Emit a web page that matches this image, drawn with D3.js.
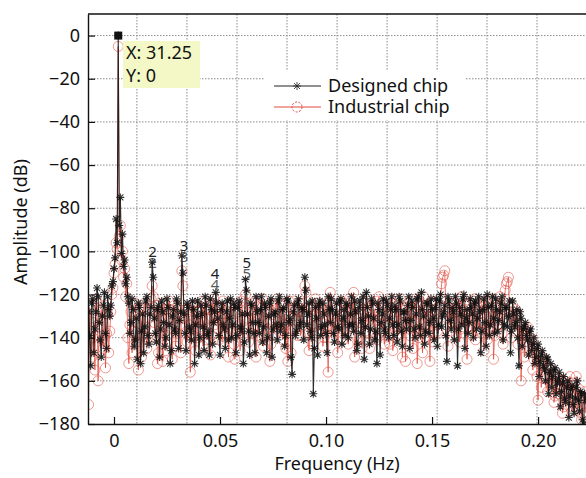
<!DOCTYPE html>
<html><head><meta charset="utf-8">
<script src="https://cdn.jsdelivr.net/npm/d3@7"></script>
<style>
html,body{margin:0;padding:0;background:#fff;}
svg{display:block;font-family:"Noto Sans",sans-serif;}
</style></head>
<body>
<svg id="chart" width="586" height="478"></svg>
<script>
// ---------------- data ----------------
const freqStart = -0.012;   // first bin (Hz)
const freqStep = 0.001;     // bin spacing (Hz); half-bins lie at +0.0005

// Designed chip spectrum (dB) on the whole bins
const designedDb = [
 -128,-153,-122,-136,-117,-133,-149,-125,-138,-121,
 -130,-116,-108,-85,0,-75,-92,-104,-112,-124,
 -133,-127,-141,-150,-126,-137,-147,-123,-139,-129,
 -105,-131,-142,-125,-136,-128,-144,-122,-134,-146,
 -127,-138,-124,-132,-102,-129,-146,-126,-137,-123,
 -152,-130,-148,-125,-135,-121,-139,-148,-127,-133,
 -119,-131,-148,-124,-136,-128,-141,-122,-134,-126,
 -139,-123,-137,-152,-113,-129,-148,-125,-138,-121,
 -133,-127,-142,-124,-147,-130,-122,-136,-128,-141,
 -121,-134,-126,-139,-123,-131,-157,-125,-137,-122,
 -133,-127,-112,-134,-124,-140,-166,-126,-148,-123,
 -135,-129,-138,-121,-133,-127,-142,-124,-136,-122,
 -131,-139,-125,-134,-121,-137,-128,-143,-123,-132,
 -150,-119,-130,-136,-124,-141,-152,-127,-133,-122,
 -138,-125,-131,-121,-139,-127,-134,-123,-144,-128,
 -136,-121,-132,-126,-140,-122,-135,-119,-130,-137,
 -124,-133,-127,-141,-122,-134,-120,-130,-125,-151,
 -123,-136,-128,-121,-153,-126,-134,-120,-131,-138,
 -122,-129,-124,-136,-121,-147,-127,-133,-120,-139,
 -125,-131,-122,-137,-128,-121,-134,-126,-130,-147,
 -123,-135,-127,-153,-131,-136,-133,-141,-137,-146,
 -140,-149,-143,-151,-146,-155,-149,-166,-152,-158,
 -154,-161,-156,-165,-158,-170,-160,-167,-162,-175,
 -163,-169,-165,-178,-166
];
// Designed chip spectrum (dB) on the half bins
const designedDbHalf = [
 -139,-124,-147,-128,-121,-141,-130,-119,-145,-127,
 -125,-114,-103,-96,-88,-101,-107,-115,-121,-138,
 -122,-144,-131,-124,-152,-129,-135,-121,-143,-126,
 -112,-138,-127,-149,-123,-133,-140,-126,-152,-130,
 -136,-122,-145,-128,-110,-138,-124,-135,-141,-127,
 -134,-123,-140,-129,-146,-125,-137,-122,-143,-128,
 -124,-139,-127,-134,-145,-123,-131,-140,-124,-147,
 -126,-135,-129,-142,-118,-137,-124,-133,-147,-128,
 -138,-121,-135,-126,-140,-124,-149,-129,-134,-123,
 -137,-127,-144,-122,-133,-149,-128,-139,-124,-135,
 -126,-141,-118,-129,-137,-123,-145,-131,-125,-139,
 -124,-134,-147,-127,-122,-138,-129,-135,-123,-143,
 -127,-124,-140,-129,-134,-123,-146,-126,-138,-121,
 -135,-126,-143,-122,-131,-137,-124,-148,-129,-136,
 -123,-140,-127,-134,-125,-142,-121,-137,-128,-132,
 -125,-145,-123,-136,-129,-121,-139,-127,-143,-124,
 -138,-122,-131,-126,-144,-123,-135,-128,-139,-121,
 -132,-126,-141,-124,-136,-129,-122,-145,-127,-133,
 -126,-140,-123,-131,-128,-137,-122,-144,-126,-134,
 -121,-138,-127,-132,-124,-141,-126,-135,-123,-137,
 -129,-133,-140,-128,-144,-135,-139,-148,-136,-143,
 -152,-145,-158,-148,-153,-160,-150,-156,-163,-155,
 -166,-159,-172,-161,-168,-163,-177,-164,-171,-168,
 -160,-174,-166,-180,-169
];

// Industrial chip spectrum (dB) on the whole bins
const industrialDb = [
 -171,-131,-140,-155,-124,-135,-127,-145,-154,-129,
 -137,-120,-110,-96,-5,-88,-100,-108,-115,-152,
 -128,-137,-124,-142,-131,-149,-126,-135,-140,-127,
 -116,-133,-125,-147,-130,-151,-127,-139,-123,-136,
 -129,-144,-126,-134,-109,-131,-138,-127,-156,-132,
 -125,-140,-128,-135,-144,-124,-131,-127,-139,-122,
 -130,-136,-126,-142,-129,-133,-149,-125,-137,-150,
 -128,-134,-123,-140,-120,-131,-127,-138,-124,-149,
 -129,-135,-122,-139,-127,-133,-143,-125,-131,-122,
 -137,-128,-134,-145,-151,-126,-136,-123,-132,-128,
 -139,-124,-116,-130,-146,-127,-135,-122,-138,-126,
 -133,-140,-125,-156,-119,-131,-137,-127,-134,-123,
 -141,-128,-136,-122,-132,-119,-139,-126,-133,-145,
 -124,-130,-138,-123,-134,-127,-141,-121,-132,-137,
 -125,-130,-143,-124,-135,-128,-139,-122,-149,-130,
 -126,-136,-123,-145,-128,-152,-125,-134,-121,-140,
 -127,-151,-124,-133,-129,-138,-122,-112,-109,-131,
 -126,-137,-124,-133,-128,-142,-121,-135,-127,-131,
 -124,-139,-122,-129,-136,-125,-133,-123,-141,-128,
 -135,-150,-126,-132,-121,-138,-127,-115,-112,-130,
 -125,-137,-129,-134,-160,-136,-139,-135,-146,-141,
 -150,-145,-169,-148,-153,-150,-159,-154,-162,-157,
 -167,-159,-164,-160,-172,-162,-168,-158,-174,-165,
 -158,-170,-167,-176,-165
];
// Industrial chip spectrum (dB) on the half bins
const industrialDbHalf = [
 -126,-149,-133,-122,-160,-131,-141,-125,-138,-147,
 -128,-117,-106,-99,-93,-104,-112,-121,-140,-134,
 -147,-125,-133,-155,-127,-139,-124,-145,-131,-122,
 -121,-140,-152,-128,-135,-124,-146,-131,-127,-150,
 -125,-138,-131,-147,-116,-127,-142,-134,-125,-139,
 -146,-128,-136,-123,-133,-141,-127,-148,-124,-134,
 -126,-141,-131,-123,-138,-128,-136,-124,-143,-129,
 -135,-146,-126,-132,-124,-142,-129,-136,-123,-139,
 -131,-125,-144,-128,-136,-151,-124,-138,-127,-133,
 -125,-141,-129,-134,-123,-147,-130,-127,-139,-124,
 -135,-128,-119,-138,-126,-143,-130,-124,-137,-129,
 -144,-127,-135,-123,-140,-129,-133,-147,-125,-136,
 -130,-124,-143,-127,-135,-149,-126,-131,-140,-123,
 -137,-128,-145,-125,-132,-140,-123,-136,-129,-143,
 -127,-134,-122,-146,-130,-125,-138,-127,-133,-151,
 -124,-139,-128,-133,-122,-140,-129,-147,-126,-135,
 -130,-123,-142,-127,-137,-125,-115,-111,-128,-144,
 -124,-132,-128,-139,-122,-136,-131,-125,-150,-129,
 -135,-123,-141,-128,-133,-126,-146,-124,-137,-130,
 -122,-139,-127,-134,-125,-143,-118,-114,-128,-140,
 -132,-127,-143,-135,-138,-149,-136,-144,-140,-155,
 -147,-158,-151,-163,-152,-157,-165,-155,-161,-170,
 -158,-166,-162,-175,-160,-169,-164,-172,-161,-168,
 -173,-164,-178,-168,-175
];

const seriesNames = ["Designed chip", "Industrial chip"];
const xTickValues = [0, 0.05, 0.10, 0.15, 0.20];
const xTickLabels = ["0", "0.05", "0.10", "0.15", "0.20"];
const yTickValues = [0, -20, -40, -60, -80, -100, -120, -140, -160, -180];
const xGridValues = [0.0108, 0.0344, 0.0580, 0.0816, 0.1052, 0.1288, 0.1524, 0.1759, 0.1995];
const harmonicFreq = [0.0182, 0.0330, 0.0476, 0.0626];
const harmonicLabel = ["2", "3", "4", "5"];
const harmonicLabelDb = [-100.0, -97.5, -110.5, -105.2];
const dataTip = {freq: 0.002, db: 0, lines: ["X: 31.25", "Y: 0"]};

// ---------------- layout ----------------
const svg = d3.select("#chart");
const L = 88, T = 14, R = 586, B = 424;
const x = d3.scaleLinear().domain([-0.01226, 0.2226]).range([L, R]);
const y = d3.scaleLinear().domain([-180, 10]).range([B, T]);
const red = "#e04a3c";
const font = 18;

function merge(whole, half) {
  const out = [];
  whole.forEach((v, i) => {
    const f = freqStart + i * freqStep;
    out.push({f: f, v: v});
    if (i < half.length) out.push({f: f + freqStep / 2, v: half[i]});
  });
  return out;
}
const black = merge(designedDb, designedDbHalf);
const redPts = merge(industrialDb, industrialDbHalf);

svg.append("defs").append("clipPath").attr("id", "clip")
  .append("rect").attr("x", L).attr("y", T).attr("width", R - L).attr("height", B - T);

// grid
const grid = svg.append("g").attr("stroke", "#8a8a8a").attr("stroke-width", 1).attr("stroke-dasharray", "1.5,1.5");
grid.selectAll("line.v").data(xGridValues).join("line").attr("class", "v")
  .attr("x1", d => x(d)).attr("x2", d => x(d)).attr("y1", T).attr("y2", B);
grid.selectAll("line.h").data(yTickValues.filter(d => d > -180)).join("line").attr("class", "h")
  .attr("x1", L).attr("x2", R).attr("y1", d => y(d)).attr("y2", d => y(d));

// legend background (covers grid)
svg.append("rect").attr("x", 265).attr("y", 70).attr("width", 200).attr("height", 50).attr("fill", "#fff");

// data
const plot = svg.append("g").attr("clip-path", "url(#clip)");
const line = d3.line().x(d => x(d.f)).y(d => y(d.v));

plot.append("path").datum(redPts).attr("d", line).attr("fill", "none")
  .attr("stroke", red).attr("stroke-width", 0.9).attr("stroke-opacity", 0.85);
plot.append("g").selectAll("circle").data(redPts).join("circle")
  .attr("cx", d => x(d.f)).attr("cy", d => y(d.v)).attr("r", 5)
  .attr("fill", "none").attr("stroke", red).attr("stroke-width", 0.8).attr("stroke-opacity", 0.7);

const star = "M-4,0H4M0,-4V4M-3,-3L3,3M-3,3L3,-3";
plot.append("path").datum(black).attr("d", line).attr("fill", "none")
  .attr("stroke", "#111").attr("stroke-width", 1.1).attr("stroke-opacity", 0.88);
plot.append("g").selectAll("path").data(black).join("path")
  .attr("transform", d => `translate(${x(d.f)},${y(d.v)})`).attr("d", star)
  .attr("fill", "none").attr("stroke", "#111").attr("stroke-width", 1.1).attr("stroke-opacity", 0.85);

// harmonic labels: each a stacked pair (one per series) in a single text element
const hl = svg.append("g").attr("font-size", 15).attr("text-anchor", "middle").attr("fill", "#222");
const hTexts = hl.selectAll("text").data(harmonicFreq).join("text")
  .attr("x", d => x(d)).attr("y", (d, i) => y(harmonicLabelDb[i])).attr("dy", "0.35em");
hTexts.append("tspan").text((d, i) => harmonicLabel[i]);
hTexts.append("tspan").attr("x", d => x(d)).attr("dy", 11).attr("fill-opacity", 0.75).text((d, i) => harmonicLabel[i]);

// axes
const fmtY = d => d < 0 ? "\u2212" + Math.abs(d) : String(d);
const yAxis = svg.append("g").attr("transform", `translate(${L},0)`)
  .call(d3.axisLeft(y).tickValues(yTickValues).tickFormat(fmtY).tickSizeInner(-7).tickSizeOuter(0).tickPadding(8));
const xAxis = svg.append("g").attr("transform", `translate(0,${B})`)
  .call(d3.axisBottom(x).tickValues(xTickValues).tickFormat((d, i) => xTickLabels[i]).tickSizeInner(-7).tickSizeOuter(0).tickPadding(10));
[yAxis, xAxis].forEach(a => {
  a.selectAll("text").attr("font-size", font).attr("fill", "#111").attr("font-family", "Noto Sans");
  a.selectAll("line").attr("stroke", "#111").attr("stroke-width", 1.2);
  a.select(".domain").attr("stroke", "#111").attr("stroke-width", 1.4);
});
svg.append("line").attr("x1", L).attr("x2", R).attr("y1", T).attr("y2", T)
  .attr("stroke", "#111").attr("stroke-width", 1.4);

// axis titles
svg.append("text").attr("x", 337).attr("y", 470).attr("text-anchor", "middle")
  .attr("font-size", font).attr("fill", "#111").text("Frequency (Hz)");
svg.append("text").attr("transform", "translate(27,222) rotate(-90)").attr("text-anchor", "middle")
  .attr("font-size", font).attr("fill", "#111").text("Amplitude (dB)");

// legend
const lg = svg.append("g");
const legY = [86, 107];
lg.append("line").attr("x1", 274).attr("x2", 321).attr("y1", legY[0]).attr("y2", legY[0]).attr("stroke", "#222").attr("stroke-width", 1);
lg.append("path").attr("transform", `translate(297,${legY[0]})`).attr("d", star).attr("stroke", "#222").attr("stroke-width", 0.8).attr("fill", "none");
lg.append("line").attr("x1", 274).attr("x2", 321).attr("y1", legY[1]).attr("y2", legY[1]).attr("stroke", red).attr("stroke-width", 1.2);
lg.append("circle").attr("cx", 297).attr("cy", legY[1]).attr("r", 5).attr("fill", "none").attr("stroke", red).attr("stroke-width", 1).attr("stroke-dasharray", "2,1.5");
lg.selectAll("text").data(seriesNames).join("text")
  .attr("x", 328).attr("y", (d, i) => legY[i]).attr("dy", "0.35em")
  .attr("font-size", font).attr("fill", "#111").text(d => d);

// data tip
svg.append("rect").attr("x", x(dataTip.freq) - 4).attr("y", y(dataTip.db) - 4).attr("width", 8).attr("height", 8).attr("fill", "#111");
const tip = svg.append("g");
tip.append("rect").attr("x", 123).attr("y", 41).attr("width", 77).attr("height", 47).attr("fill", "#f4f8c6");
tip.selectAll("text").data(dataTip.lines).join("text")
  .attr("x", 126).attr("y", (d, i) => 53 + i * 23).attr("dy", "0.35em")
  .attr("font-size", font).attr("fill", "#111").text(d => d);
</script>
</body></html>
